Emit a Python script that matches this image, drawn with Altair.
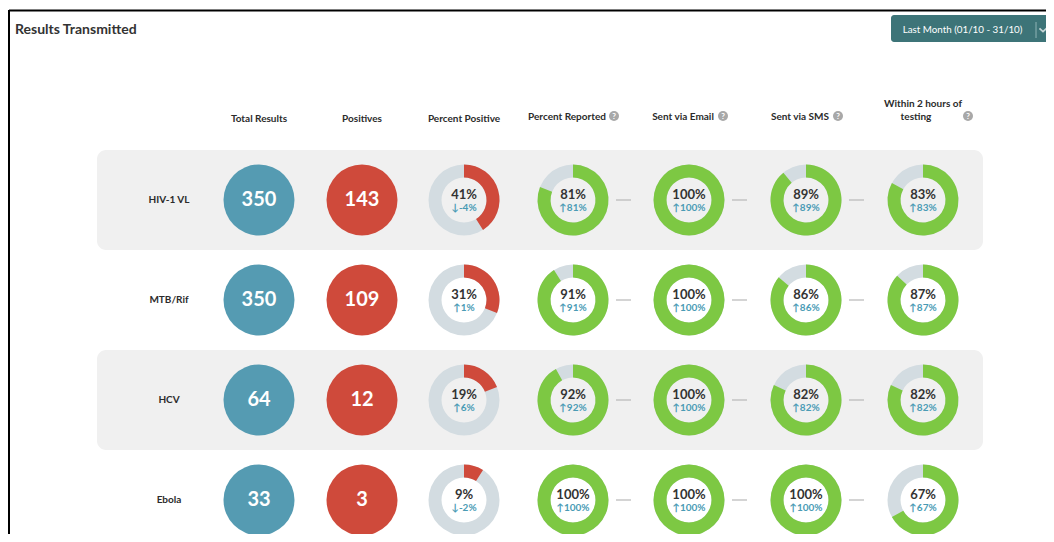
import altair as alt
import pandas as pd

# ---------------- data ----------------
rows = ["HIV-1 VL", "MTB/Rif", "HCV", "Ebola"]
columns = ["", "Total Results", "Positives", "Percent Positive", "Percent Reported",
           "Sent via Email", "Sent via SMS", "Within 2 hours of\ntesting"]
total_results = [350, 350, 64, 33]
positives = [143, 109, 12, 3]
pct_positive = [41, 31, 19, 9]
pct_positive_change = [-4, 1, 6, -2]
pct_reported = [81, 91, 92, 100]
pct_reported_change = [81, 91, 92, 100]
sent_email = [100, 100, 100, 100]
sent_email_change = [100, 100, 100, 100]
sent_sms = [89, 86, 82, 100]
sent_sms_change = [89, 86, 82, 100]
within_2h = [83, 87, 82, 67]
within_2h_change = [83, 87, 82, 67]
title_text = "Results Transmitted"
period_text = "Last Month (01/10 - 31/10)"

# ---------------- tables ----------------
df_rows = pd.DataFrame({"row": rows, "ri": list(range(len(rows))),
                        "total": total_results, "pos": positives})
df_rows["ci0"] = 0
df_rows["ci1"] = 1
df_rows["ci2"] = 2
df_rows["band"] = df_rows["ri"] % 2 == 0

metrics = [
    (3, pct_positive, pct_positive_change, "pos"),
    (4, pct_reported, pct_reported_change, "ok"),
    (5, sent_email, sent_email_change, "ok"),
    (6, sent_sms, sent_sms_change, "ok"),
    (7, within_2h, within_2h_change, "ok"),
]
recs = []
for ci, vals, chg, kind in metrics:
    for ri, (v, c) in enumerate(zip(vals, chg)):
        recs.append({"ci": ci, "ri": ri, "pct": v, "kind": kind,
                     "pct_label": f"{v}%",
                     "delta_label": f"{'↑' if c >= 0 else '↓'}{c}%"})
df_donut = pd.DataFrame(recs)
df_dash = df_donut[df_donut["ci"].isin([4, 5, 6])]

df_head = pd.DataFrame({"name": columns, "ci": list(range(len(columns)))})
df_head["line1"] = df_head["name"].str.split("\n").str[0]
df_head["line2"] = df_head["name"].str.split("\n").str[1]
df_head_plain = df_head[df_head["ci"].isin([1, 2, 3])]
df_head_icon = df_head[df_head["ci"].isin([4, 5, 6])]
df_head_two = df_head[df_head["ci"] == 7]

one = pd.DataFrame({"a": [0]})

# ---------------- styling ----------------
FONT = "Lato"
BLUE = "#559bb2"
RED = "#cf4a3b"
GREEN = "#7dc843"
RING = "#d3dce1"
TEAL = "#4a9bb5"
DARK = "#2b2b2b"
BAND = "#f0f0f0"

xscale = alt.Scale(domain=[0, 1, 2, 3, 4, 5, 6, 7],
                   range=[160, 250, 353, 455, 564, 680, 797, 914], nice=False, zero=False)
yscale = alt.Scale(domain=[0, 3], range=[192, 492], nice=False, zero=False)


def X(f):
    return alt.X(f, scale=xscale, axis=None)


def Y(f):
    return alt.Y(f, scale=yscale, axis=None)


# frame
frame_left = alt.Chart(one).mark_rule(color="black", strokeWidth=2).encode(
    x=alt.value(0), y=alt.value(2), y2=alt.value(526))
frame_top = alt.Chart(one).mark_rule(color="black", strokeWidth=2).encode(
    x=alt.value(0), x2=alt.value(1038), y=alt.value(2.5))

title = alt.Chart(one).mark_text(font=FONT, fontSize=14, fontWeight="bold", color="#333333",
                                 align="left", baseline="middle").encode(
    x=alt.value(6), y=alt.value(22), text=alt.value(title_text))

button = alt.Chart(one).mark_rect(color="#3d7478", cornerRadius=3).encode(
    x=alt.value(882), x2=alt.value(1045), y=alt.value(7), y2=alt.value(34))
button_text = alt.Chart(one).mark_text(font=FONT, fontSize=9.8, color="white",
                                       baseline="middle").encode(
    x=alt.value(953.5), y=alt.value(22), text=alt.value(period_text))
button_sep = alt.Chart(one).mark_rule(color="#8fb3b5", strokeWidth=1).encode(
    x=alt.value(1027), y=alt.value(14), y2=alt.value(30))
chevron = alt.Chart(one).mark_point(shape="M-1,-0.45L0,0.45L1,-0.45", filled=False,
                                     stroke="white", strokeWidth=1.8, size=50).encode(
    x=alt.value(1034), y=alt.value(22))

# row bands
bands = alt.Chart(df_rows).transform_filter("datum.band").transform_calculate(
    lo="datum.ri - 0.5", hi="datum.ri + 0.5").mark_rect(color=BAND, cornerRadius=9).encode(
    x=alt.value(88), x2=alt.value(974), y=Y("lo:Q"), y2="hi:Q")

row_labels = alt.Chart(df_rows).mark_text(font=FONT, fontSize=10, fontWeight="bold",
                                          color=DARK, baseline="middle").encode(
    x=X("ci0:Q"), y=Y("ri:Q"), text="row:N")

# headers
hdr_plain = alt.Chart(df_head_plain).mark_text(font=FONT, fontSize=10, fontWeight="bold",
                                               color=DARK, baseline="middle").encode(
    x=X("ci:Q"), y=alt.value(111), text="name:N")
hdr_icon = alt.Chart(df_head_icon).mark_text(font=FONT, fontSize=10, fontWeight="bold",
                                             color=DARK, baseline="middle", dx=-6).encode(
    x=X("ci:Q"), y=alt.value(108.5), text="name:N")
hdr_two_a = alt.Chart(df_head_two).mark_text(font=FONT, fontSize=10, fontWeight="bold",
                                             color=DARK, baseline="middle", dx=0).encode(
    x=X("ci:Q"), y=alt.value(96), text="line1:N")
hdr_two_b = alt.Chart(df_head_two).mark_text(font=FONT, fontSize=10, fontWeight="bold",
                                             color=DARK, baseline="middle", dx=-7).encode(
    x=X("ci:Q"), y=alt.value(109), text="line2:N")

icon_layers = []
for ci, dx in [(4, 41), (5, 34), (6, 32), (7, 45)]:
    sub = df_head[df_head["ci"] == ci]
    icon_layers.append(alt.Chart(sub).mark_circle(color="#a8a8a8", opacity=1, size=100,
                                                  xOffset=dx).encode(
        x=X("ci:Q"), y=alt.value(108)))
    icon_layers.append(alt.Chart(sub).mark_text(text="?", font=FONT, fontSize=8, fontWeight="bold",
                                                color="white", baseline="middle", dx=dx).encode(
        x=X("ci:Q"), y=alt.value(108.5)))

# big circles
tot_circ = alt.Chart(df_rows).mark_circle(color=BLUE, opacity=1, size=5041).encode(
    x=X("ci1:Q"), y=Y("ri:Q"))
tot_text = alt.Chart(df_rows).mark_text(font=FONT, fontSize=20, fontWeight="bold", color="white",
                                        baseline="middle").encode(
    x=X("ci1:Q"), y=Y("ri:Q"), text="total:Q")
pos_circ = alt.Chart(df_rows).mark_circle(color=RED, opacity=1, size=5041).encode(
    x=X("ci2:Q"), y=Y("ri:Q"))
pos_text = alt.Chart(df_rows).mark_text(font=FONT, fontSize=20, fontWeight="bold", color="white",
                                        baseline="middle").encode(
    x=X("ci2:Q"), y=Y("ri:Q"), text="pos:Q")

# donuts
ring_bg = alt.Chart(df_donut).mark_arc(radius=35.5, radius2=22.5, color=RING).encode(
    x=X("ci:Q"), y=Y("ri:Q"), theta=alt.value(0), theta2=alt.value(6.2832))
ring_fg = alt.Chart(df_donut).mark_arc(radius=35.5, radius2=22.5).encode(
    x=X("ci:Q"), y=Y("ri:Q"),
    theta=alt.Theta("pct:Q", scale=alt.Scale(domain=[0, 100], range=[0, 6.283185]), stack=None),
    theta2=alt.value(0),
    color=alt.Color("kind:N", scale=alt.Scale(domain=["pos", "ok"], range=[RED, GREEN]), legend=None))
pct_text = alt.Chart(df_donut).mark_text(font=FONT, fontSize=13, fontWeight="bold", color="#333333",
                                         baseline="middle", dy=-5).encode(
    x=X("ci:Q"), y=Y("ri:Q"), text="pct_label:N")
delta_text = alt.Chart(df_donut).mark_text(font=FONT, fontSize=10, fontWeight="bold", color=TEAL,
                                           baseline="middle", dy=8).encode(
    x=X("ci:Q"), y=Y("ri:Q"), text="delta_label:N")

dashes = alt.Chart(df_dash).mark_rule(color="#b8b8b8", strokeWidth=1.2, xOffset=43, x2Offset=58).encode(
    x=X("ci:Q"), x2="ci:Q", y=Y("ri:Q"))

chart = alt.layer(
    frame_left, frame_top, title, button, button_text, button_sep, chevron,
    bands, row_labels, hdr_plain, hdr_icon, hdr_two_a, hdr_two_b, *icon_layers,
    tot_circ, tot_text, pos_circ, pos_text,
    ring_bg, ring_fg, pct_text, delta_text, dashes,
).properties(
    width=1038, height=526,
    autosize=alt.AutoSizeParams(type="fit", contains="padding"),
    padding=0, background="white",
).configure_view(stroke=None)

chart.save("out.html", embed_options={"renderer": "svg", "actions": False})
